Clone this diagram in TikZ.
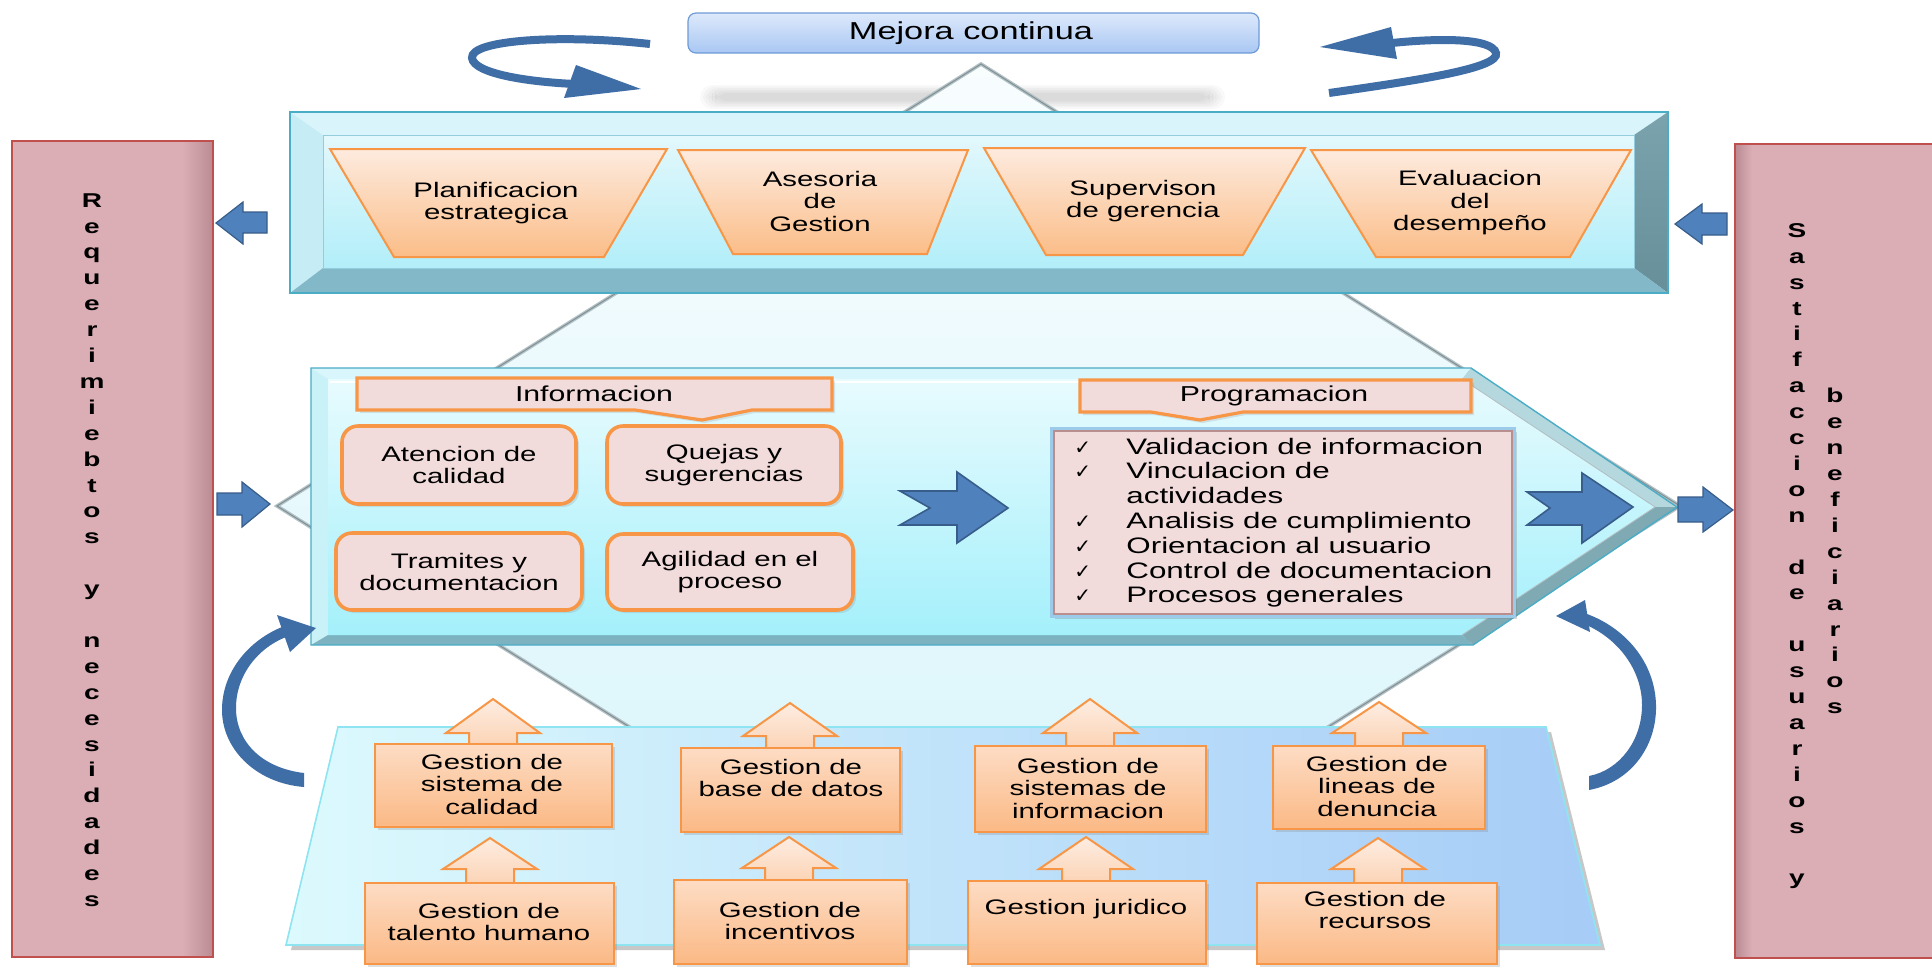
\documentclass[tikz,border=0pt]{standalone}
\usepackage{fontspec}
\setmainfont{Liberation Sans}[FakeStretch=1.4]
\newfontfamily\symfont{DejaVu Sans}
\usetikzlibrary{shadows}

\definecolor{edgeT}{HTML}{4BACC6}
\definecolor{bevT}{HTML}{D9F4FA}
\definecolor{bevL}{HTML}{C6EDF6}
\definecolor{bevRa}{HTML}{7AA3AE}
\definecolor{bevRb}{HTML}{678F9A}
\definecolor{bevB}{HTML}{82B8C8}
\definecolor{faceA}{HTML}{E3F8FC}
\definecolor{faceB}{HTML}{B2EEF9}
\definecolor{peachA}{HTML}{FDEBDF}
\definecolor{peachB}{HTML}{FBBD88}
\definecolor{orng}{HTML}{F79646}
\definecolor{pinkbox}{HTML}{F2DCDB}
\definecolor{blk}{HTML}{4F81BD}
\definecolor{blkD}{HTML}{385D8A}
\definecolor{loopb}{HTML}{3F6DA6}
\definecolor{colpink}{HTML}{DBAEB5}
\definecolor{colpinkD}{HTML}{BB8C94}
\definecolor{colred}{HTML}{C0504D}
\definecolor{mejA}{HTML}{DDE9FB}
\definecolor{mejB}{HTML}{A9C7F3}
\definecolor{mejD}{HTML}{6F9BD6}
\definecolor{diaA}{HTML}{F8FDFE}
\definecolor{diaB}{HTML}{D6F4FA}
\definecolor{silver}{HTML}{B5C2C6}
\definecolor{silverD}{HTML}{7E9096}
\definecolor{botA}{HTML}{DCFAFD}
\definecolor{botB}{HTML}{A6CCF7}
\definecolor{botE}{HTML}{8EE4F1}
\definecolor{gA}{HTML}{FDDCC4}
\definecolor{gB}{HTML}{FBB985}
\definecolor{uA}{HTML}{FDEDE2}
\definecolor{uB}{HTML}{FCD3B4}
\definecolor{mfA}{HTML}{E8FBFE}
\definecolor{mfB}{HTML}{A4F0FB}
\definecolor{listE}{HTML}{B98E8E}
\definecolor{listG}{HTML}{9CCBEA}
\definecolor{mbT}{HTML}{D8F6FB}
\definecolor{mbL}{HTML}{C9F1F8}
\definecolor{mbU}{HTML}{B4D8DE}
\definecolor{mbD}{HTML}{7FAAB4}
\definecolor{mbB}{HTML}{7DB3C1}

\newcommand{\UpArr}[4]{\path[uparr] ({#1-24},#4) -- ({#1-24},#3) -- ({#1-47},#3) -- (#1,#2) -- ({#1+47},#3) -- ({#1+24},#3) -- ({#1+24},#4) -- cycle;}

\begin{document}
\begin{tikzpicture}[x=0.5pt,y=-0.5pt,
  txt/.style={align=center, inner sep=0pt, text=black, font=\fontsize{10.5}{11.25}\selectfont},
  coltxt/.style={align=center, inner sep=0pt, text=black, font=\fontsize{10}{12.95}\selectfont\bfseries},
  trapz/.style={draw=orng, line width=1pt, top color=peachA, bottom color=peachB},
  pinkr/.style={draw=orng, line width=1.8pt, fill=pinkbox, rounded corners=8pt, drop shadow={opacity=0.2, shadow xshift=1.5pt, shadow yshift=-1.5pt}},
  callout/.style={draw=orng, line width=1.6pt, fill=pinkbox, drop shadow={opacity=0.2, shadow xshift=1.5pt, shadow yshift=-1.5pt}},
  gbox/.style={draw=orng, line width=1pt, top color=gA, bottom color=gB, drop shadow={opacity=0.25, shadow xshift=1.5pt, shadow yshift=-1.5pt}},
  uparr/.style={draw=orng, line width=1pt, top color=uA, bottom color=uB},
  sblue/.style={fill=blk, draw=blkD, line width=0.6pt},
  bigblue/.style={fill=blk, draw=blkD, line width=0.8pt},
]
\useasboundingbox (0,0) rectangle (1932,966);
\fill[white] (0,0) rectangle (1932,966);

% soft shadow under Mejora continua
\foreach \i in {0,...,5} {
  \fill[black, opacity=0.025, rounded corners=6pt] ({700+3*\i},{85+1.6*\i}) rectangle ({1225-3*\i},{109-1.6*\i});
}

% big diamond
\coordinate (dT) at (981,64);
\coordinate (dR) at (1680,506);
\coordinate (dB) at (979,946);
\coordinate (dL) at (277,506);
\path[draw=silver, line width=1.8pt, top color=diaA, bottom color=diaB] (dT) -- (dR) -- (dB) -- (dL) -- cycle;
\draw[silverD, line width=0.5pt] (dT) -- (dR) -- (dB) -- (dL) -- cycle;

% top bevel box
\fill[bevT] (290,112) -- (1668,112) -- (1634,135) -- (323,135) -- cycle;
\fill[bevL] (290,112) -- (323,135) -- (323,268) -- (290,293) -- cycle;
\shade[top color=bevRa, bottom color=bevRb] (1668,112) -- (1668,293) -- (1634,268) -- (1634,135) -- cycle;
\fill[bevB] (290,293) -- (323,268) -- (1634,268) -- (1668,293) -- cycle;
\shade[top color=faceA, bottom color=faceB] (323,135) rectangle (1634,268);
\draw[edgeT, line width=0.7pt] (290,112) rectangle (1668,293);
\draw[edgeT!60, line width=0.5pt] (323,135) rectangle (1634,268);

% trapezoids
\path[trapz] (330,149) -- (667,149) -- (604,257) -- (394,257) -- cycle;
\path[trapz] (678,150) -- (968,150) -- (927,254) -- (733,254) -- cycle;
\path[trapz] (984,148) -- (1305,148) -- (1243,255) -- (1046,255) -- cycle;
\path[trapz] (1311,150) -- (1631,150) -- (1570,257) -- (1376,257) -- cycle;
\node[txt] (t1) at (496,203) {Planificacion\\estrategica};
\node[txt] (t2) at (820,201) {Asesoria\\de\\Gestion};
\node[txt] (t3) at (1143,201) {Supervison\\de gerencia};
\node[txt] (t4) at (1470,203) {Evaluacion\\del\\desempeño};

% Mejora continua
\path[draw=mejD, line width=0.6pt, rounded corners=4pt, top color=mejA, bottom color=mejB] (688,13) rectangle (1259,53);
\node[txt, font=\fontsize{12.25}{14}\selectfont] (mejora) at (971,33) {Mejora continua};

% loop arrows
\draw[loopb, line width=4pt] (650,44) .. controls (560,34) and (470,40) .. (472,58) .. controls (474,74) and (530,82) .. (575,84);
\fill[loopb] (576,65) -- (641,89) -- (564,98) -- cycle;
\draw[loopb, line width=4pt] (1329,93) .. controls (1420,80) and (1500,68) .. (1496,53) .. controls (1492,38) and (1440,38) .. (1392,43);
\fill[loopb] (1391,27) -- (1320,47) -- (1397,59) -- cycle;

% middle pentagon box
\fill[mbT] (311,368) -- (1471,368) -- (1462,379) -- (328,379) -- cycle;
\fill[mbL] (311,368) -- (328,379) -- (328,635) -- (311,645) -- cycle;
\fill[mbU] (1471,368) -- (1677,507) -- (1655,507) -- (1462,379) -- cycle;
\fill[mbD] (1677,507) -- (1473,645) -- (1462,635) -- (1655,507) -- cycle;
\fill[mbB] (311,645) -- (328,635) -- (1462,635) -- (1473,645) -- cycle;
\shade[top color=mfA, bottom color=mfB] (328,379) -- (1462,379) -- (1655,507) -- (1462,635) -- (328,635) -- cycle;
\draw[white, line width=1.2pt] (330,382) -- (1460,382);
\draw[edgeT, line width=0.7pt] (311,368) -- (1471,368) -- (1677,507) -- (1473,645) -- (311,645) -- cycle;
\draw[silverD!60, line width=0.4pt] (1462,379) -- (1655,507) -- (1462,635);

% Informacion callout
\path[callout] (357,378) -- (832,378) -- (832,410) -- (752,410) -- (702,420) -- (635,410) -- (357,410) -- cycle;
\node[txt, font=\fontsize{10.8}{12}\selectfont] (info) at (594,394) {Informacion};

% rounded boxes
\path[pinkr] (342,426) rectangle (576,504);
\path[pinkr] (607,426) rectangle (841,504);
\path[pinkr] (336,533) rectangle (582,610);
\path[pinkr] (607,534) rectangle (853,610);
\node[txt] (atc) at (459,465) {Atencion de\\calidad};
\node[txt] (qs) at (724,465) {Quejas y\\sugerencias};
\node[txt] (tr) at (459,572) {Tramites y\\documentacion};
\node[txt] (ag) at (730,572) {Agilidad en el\\proceso};

% big notched arrows
\path[bigblue] (900,491) -- (957,491) -- (957,472) -- (1008,508) -- (957,543) -- (957,525) -- (900,525) -- (930,508) -- cycle;
\path[bigblue] (1527,492) -- (1582,492) -- (1582,473) -- (1633,507) -- (1582,543) -- (1582,525) -- (1527,525) -- (1550,508) -- cycle;

% Programacion callout and list
\path[callout] (1080,380) -- (1471,380) -- (1471,412) -- (1243,412) -- (1200,420) -- (1151,412) -- (1080,412) -- cycle;
\node[txt, font=\fontsize{10.8}{12}\selectfont] (prog) at (1274,396) {Programacion};
\path[draw=listG, line width=2pt, fill=pinkbox, drop shadow={opacity=0.3, shadow xshift=1.5pt, shadow yshift=-1.5pt}] (1052,429) rectangle (1514,616);
\draw[listE, line width=0.9pt] (1054,431) rectangle (1512,614);
\node[anchor=base west, inner sep=0pt, text=black, font=\fontsize{11.2}{12.4}\selectfont] (plist) at (1074,454) {%
\begin{tabular}[t]{@{}l@{}l@{}}
\makebox[26pt][l]{\symfont\fontsize{10}{10}\selectfont ✓} & Validacion de informacion\\
\makebox[26pt][l]{\symfont\fontsize{10}{10}\selectfont ✓} & Vinculacion de\\
 & actividades\\
\makebox[26pt][l]{\symfont\fontsize{10}{10}\selectfont ✓} & Analisis de cumplimiento\\
\makebox[26pt][l]{\symfont\fontsize{10}{10}\selectfont ✓} & Orientacion al usuario\\
\makebox[26pt][l]{\symfont\fontsize{10}{10}\selectfont ✓} & Control de documentacion\\
\makebox[26pt][l]{\symfont\fontsize{10}{10}\selectfont ✓} & Procesos generales
\end{tabular}};

% bottom trapezoid
\fill[black!22] (343,732) -- (1551,732) -- (1605,950) -- (291,950) -- cycle;
\path[left color=botA, right color=botB, draw=botE, line width=0.8pt] (338,727) -- (1546,727) -- (1600,945) -- (286,945) -- cycle;

% bottom arrows and boxes
\UpArr{493}{699}{733}{746}
\UpArr{790}{703}{736}{750}
\UpArr{1090}{699}{733}{748}
\UpArr{1379}{702}{733}{748}
\UpArr{490}{838}{869}{885}
\UpArr{789}{837}{868}{882}
\UpArr{1086}{837}{869}{883}
\UpArr{1378}{838}{869}{885}
\path[gbox] (375,744) rectangle (612,827);
\path[gbox] (681,748) rectangle (900,832);
\path[gbox] (975,746) rectangle (1206,832);
\path[gbox] (1273,746) rectangle (1485,829);
\path[gbox] (365,883) rectangle (614,964);
\path[gbox] (674,880) rectangle (907,964);
\path[gbox] (968,881) rectangle (1206,964);
\path[gbox] (1257,883) rectangle (1497,964);
\node[txt] (g1) at (492,784) {Gestion de\\sistema de\\calidad};
\node[txt] (g2) at (791,778) {Gestion de\\base de datos};
\node[txt] (g3) at (1088,788) {Gestion de\\sistemas de\\informacion};
\node[txt] (g4) at (1377,786) {Gestion de\\lineas de\\denuncia};
\node[txt] (g5) at (489,922) {Gestion de\\talento humano};
\node[txt] (g6) at (790,921) {Gestion de\\incentivos};
\node[txt] (g7) at (1086,909) {Gestion juridico};
\node[txt] (g8) at (1375,910) {Gestion de\\recursos};

% side columns
\path[fill=colpink, draw=colred, line width=0.8pt] (12,141) rectangle (213,957);
\shade[left color=colpink, right color=colpinkD] (182,142) rectangle (212,956);
\draw[colred, line width=0.8pt] (12,141) rectangle (213,957);
\path[fill=colpink, draw=colred, line width=0.8pt] (1735,144) rectangle (1950,958);
\shade[left color=colpinkD, right color=colpink] (1736,145) rectangle (1752,957);
\draw[colred, line width=0.8pt] (1735,144) rectangle (1950,958);
\node[coltxt, anchor=north] (req) at (92,193) {R\\e\\q\\u\\e\\r\\i\\m\\i\\e\\b\\t\\o\\s\\~\\y\\~\\n\\e\\c\\e\\s\\i\\d\\a\\d\\e\\s};
\node[coltxt, anchor=north] (sat) at (1797,223) {S\\a\\s\\t\\i\\f\\a\\c\\c\\i\\o\\n\\~\\d\\e\\~\\u\\s\\u\\a\\r\\i\\o\\s\\~\\y};
\node[coltxt, anchor=north] (ben) at (1835,388) {b\\e\\n\\e\\f\\i\\c\\i\\a\\r\\i\\o\\s};

% small block arrows
\path[sblue] (267,212) -- (243,212) -- (243,202) -- (216,223) -- (243,244) -- (243,233) -- (267,233) -- cycle;
\path[sblue] (1727,213) -- (1702,213) -- (1702,204) -- (1675,224) -- (1702,244) -- (1702,235) -- (1727,235) -- cycle;
\path[sblue] (217,493) -- (242,493) -- (242,482) -- (270,504) -- (242,527) -- (242,515) -- (217,515) -- cycle;
\path[sblue] (1678,497) -- (1703,497) -- (1703,487) -- (1733,510) -- (1703,532) -- (1703,522) -- (1678,522) -- cycle;

% curved arrows
\fill[loopb] (304,787) .. controls (255,783) and (221,748) .. (222,708) .. controls (223,670) and (250,640) .. (282,627)
  -- (286,637) .. controls (258,648) and (236,675) .. (236,708) .. controls (236,742) and (262,768) .. (304,773) -- cycle;
\fill[loopb] (277,615) -- (316,628) -- (290,652) -- cycle;
\fill[loopb] (1589,790) .. controls (1632,782) and (1657,745) .. (1656,705) .. controls (1655,662) and (1625,628) .. (1587,614)
  -- (1584,624) .. controls (1618,638) and (1642,670) .. (1642,705) .. controls (1642,740) and (1620,770) .. (1589,776) -- cycle;
\fill[loopb] (1585,600) -- (1556,616) -- (1590,632) -- cycle;
\end{tikzpicture}
\end{document}
